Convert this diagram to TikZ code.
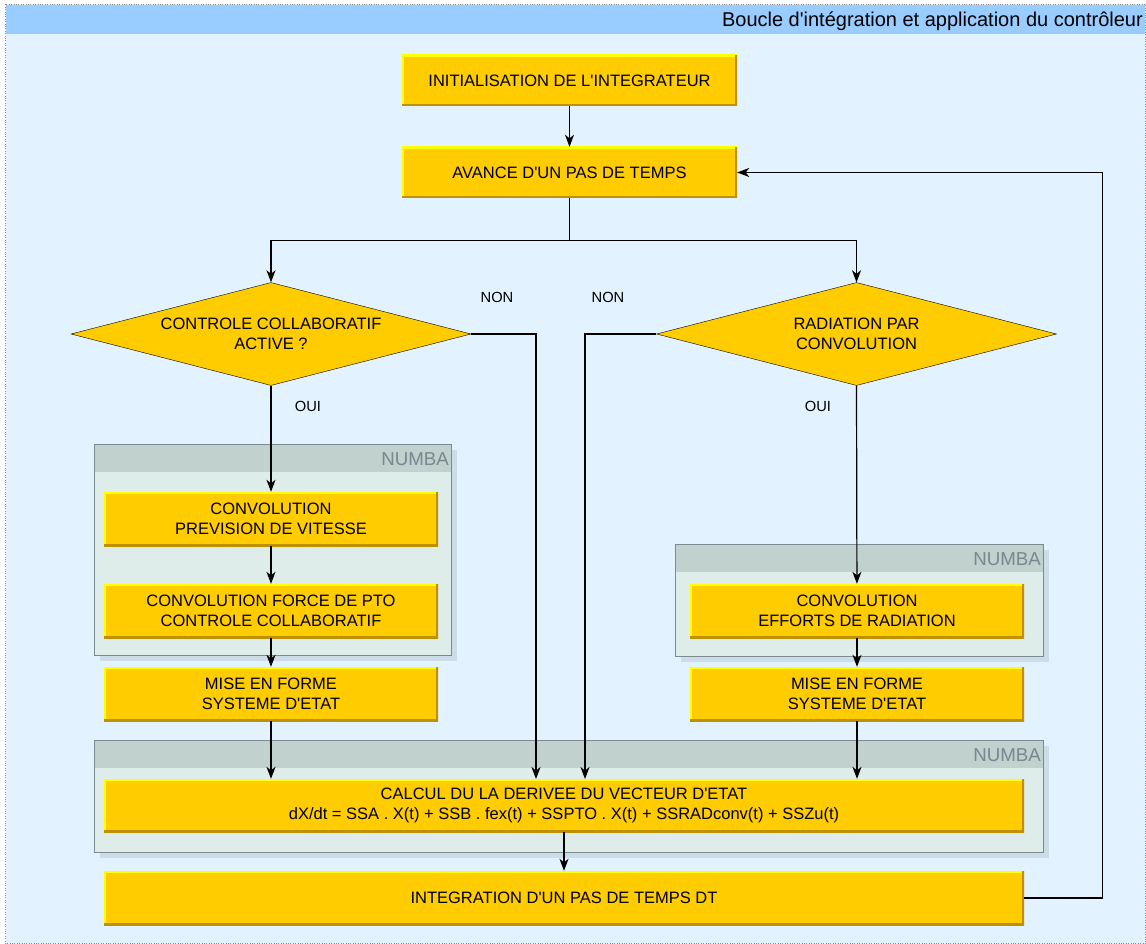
\documentclass[tikz,border=0pt]{standalone}
\usepackage{fontspec}
\setmainfont{Liberation Sans}
\usepackage{tikz}
\usetikzlibrary{shapes,arrows,arrows.meta}

\definecolor{bgblue}{RGB}{226,242,254}
\definecolor{titleblue}{RGB}{153,204,255}
\definecolor{boxfill}{RGB}{255,204,0}
\definecolor{boxlight}{RGB}{255,255,0}
\definecolor{boxdark}{RGB}{190,145,0}
\definecolor{groupbody}{RGB}{222,237,234}
\definecolor{grouphead}{RGB}{192,209,206}
\definecolor{groupline}{RGB}{125,138,145}
\definecolor{groupshadow}{RGB}{204,221,232}
\definecolor{numbatext}{RGB}{120,135,145}

\newcommand\boxfont{\fontsize{16.5}{20}\selectfont}
\newcommand\smallfont{\fontsize{14.7}{17}\selectfont}
\newcommand\ap{\textquotesingle}

\tikzstyle{block} = [rectangle, fill=boxfill, align=center, inner sep=0pt,
    minimum width=334pt, minimum height=54pt, font=\boxfont,
    path picture={
      \draw[boxlight, line width=4pt] (path picture bounding box.south west) |- (path picture bounding box.north east);
      \draw[boxdark, line width=4pt] (path picture bounding box.north east) |- (path picture bounding box.south west);}]
\tikzstyle{decision} = [diamond, draw, fill=boxfill, align=center, inner sep=0pt,
    aspect=3.88, minimum width=400pt, minimum height=103pt, font=\boxfont]
\tikzstyle{answer} = [font=\smallfont]
\tikzstyle{numba} = [text=numbatext, font=\fontsize{18.7}{20}\selectfont, inner sep=0pt]
\tikzstyle{line} = [draw, line width=1.2pt, -{Stealth[length=12pt, width=9pt, inset=3.5pt]}]

\begin{document}
\begin{tikzpicture}[x=1pt, y=-1pt]
    \useasboundingbox (0,0) rectangle (1146,944);
    % Frame and title
    \filldraw[fill=bgblue, draw=black!45, dotted] (5.5,4.5) rectangle (1145.5,943.5);
    \fill[titleblue] (6,5) rectangle (1145,34);
    \node[anchor=base east, inner sep=0pt, font=\fontsize{20}{22}\selectfont] (title) at (1143,27)
        {Boucle d\ap intégration et application du contrôleur};
    % NUMBA groups
    \foreach \xa/\ya/\xb/\yb/\n in {94/444/451/655/numbal, 675/544/1043/656/numbar, 94/740/1043/852/numbab} {
      \fill[groupshadow] (\xa+6,\ya+6) rectangle (\xb+6,\yb+6);
      \fill[groupbody] (\xa,\ya) rectangle (\xb,\yb);
      \fill[grouphead] (\xa,\ya) rectangle (\xb,\ya+28);
      \draw[groupline, line width=1pt] (\xa,\ya) rectangle (\xb,\yb);
      \node[numba, anchor=base east] (\n) at (\xb-2,\ya+21) {NUMBA};
    }
    % Place nodes
    \node [block, minimum width=335pt, minimum height=51pt] (init) at (569.5,80.5) {INITIALISATION DE L\ap INTEGRATEUR};
    \node [block, minimum width=335pt, minimum height=51pt] (avance) at (569.5,172.5) {AVANCE D\ap UN PAS DE TEMPS};
    \node [decision] (ctrl) at (271,334) {CONTROLE COLLABORATIF\\ACTIVE ?};
    \node [decision] (rad) at (856.5,334) {RADIATION PAR\\CONVOLUTION};
    \node [block] (prev) at (271,519) {CONVOLUTION\\PREVISION DE VITESSE};
    \node [block] (force) at (271,611) {CONVOLUTION FORCE DE PTO\\CONTROLE COLLABORATIF};
    \node [block] (misel) at (271,694) {MISE EN FORME\\SYSTEME D\ap ETAT};
    \node [block] (effort) at (857,611) {CONVOLUTION\\EFFORTS DE RADIATION};
    \node [block] (miser) at (857,694) {MISE EN FORME\\SYSTEME D\ap ETAT};
    \node [block, minimum width=920pt, minimum height=53pt] (calcul) at (564,805.5)
        {CALCUL DU LA DERIVEE DU VECTEUR D\ap ETAT\\dX/dt = SSA . X(t) + SSB . fex(t) + SSPTO . X(t) + SSRADconv(t) + SSZu(t)};
    \node [block, minimum width=920pt] (integ) at (564,898) {INTEGRATION D\ap UN PAS DE TEMPS DT};
    \node [answer] (nonl) at (497,297) {NON};
    \node [answer] (nonr) at (608,297) {NON};
    \node [answer] (ouil) at (308,406) {OUI};
    \node [answer] (ouir) at (818,406) {OUI};
    \coordinate (inl) at (536,779);
    \coordinate (inr) at (585,779);
    % Draw edges
    \path [line] (init) -- (avance);
    \draw [line width=1.2pt] (avance.south) -- ++(0,42) coordinate (split);
    \path [line] (split) -| (ctrl.north);
    \path [line] (split) -| (rad.north);
    \path [line] (ctrl.south) -- (prev);
    \path [line] (prev) -- (force);
    \path [line] (force) -- (misel);
    \path [line] (misel) -- (misel |- calcul.north);
    \path [line] (ctrl.east) -| (inl);
    \path [line] (rad.west) -| (inr);
    \path [line] (rad.south) -- (effort);
    \path [line] (effort) -- (miser);
    \path [line] (miser) -- (miser |- calcul.north);
    \path [line] (calcul) -- (integ);
    \path [line] (integ.east) -- ++(78,0) |- (avance.east);
\end{tikzpicture}
\end{document}
